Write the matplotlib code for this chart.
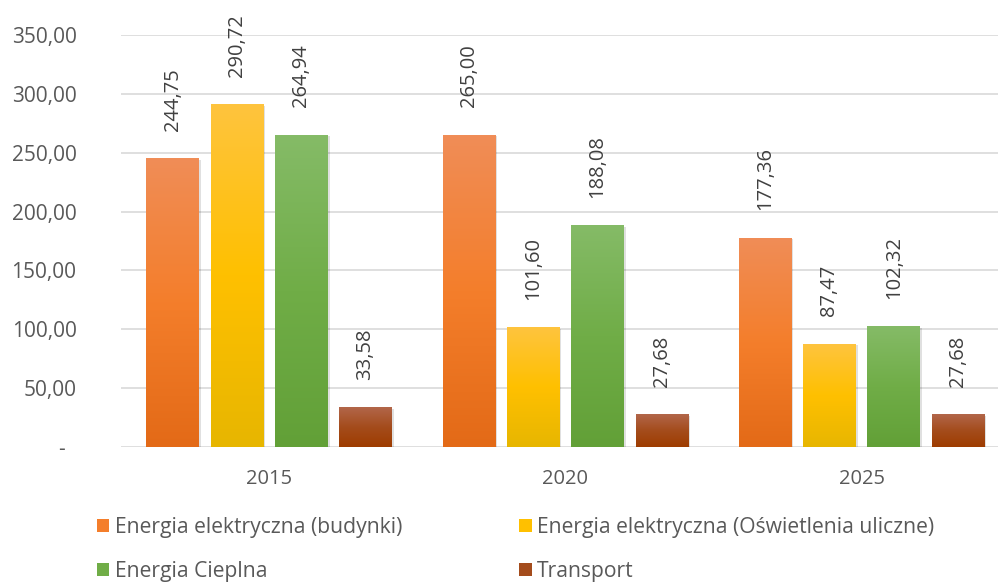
import numpy as np
import matplotlib.pyplot as plt
from matplotlib.colors import LinearSegmentedColormap
from matplotlib.patches import Patch
from matplotlib.ticker import FuncFormatter

years = ["2015", "2020", "2025"]
series_names = ["Energia elektryczna (budynki)",
                "Energia elektryczna (Oświetlenia uliczne)",
                "Energia Cieplna",
                "Transport"]
bud = [244.75, 265.00, 177.36]
oswietlenie = [290.72, 101.60, 87.47]
cieplna = [264.94, 188.08, 102.32]
transport = [33.58, 27.68, 27.68]
y_ticks = [0, 50, 100, 150, 200, 250, 300, 350]

# top, middle, bottom of the vertical gradient
gradients = [
    ["#F08D57", "#F47E2B", "#E36A17"],
    ["#FEC43E", "#FFC000", "#E7B600"],
    ["#85BB67", "#70AD47", "#62A037"],
    ["#B2664A", "#A44C1C", "#9E3C00"],
]

plt.rcParams['font.family'] = ['Open Sans', 'DejaVu Sans']

fig = plt.figure(figsize=(9.98, 5.86), dpi=100)
ax = fig.add_axes([0.1212, 0.2372, 0.8905, 0.703])

values = [bud, oswietlenie, cieplna, transport]
x = np.arange(len(years))
width = 0.177
step = 0.217
grad = np.linspace(0, 1, 256).reshape(-1, 1)

for i, vals in enumerate(values):
    top, mid, bot = gradients[i]
    cmap = LinearSegmentedColormap.from_list("g%d" % i, [bot, mid, top])
    pos = x + (i - 1.5) * step
    bars = ax.bar(pos, vals, width, color=mid, zorder=2)
    for b, v in zip(bars, vals):
        x0 = b.get_x()
        # soft shadow
        ax.bar(x0 + width / 2 + 0.007, v + 1.0, width, bottom=-2.0,
               color="#000000", alpha=0.12, zorder=1.5)
        ax.imshow(grad, extent=[x0, x0 + width, 0, v], origin="lower",
                  aspect="auto", cmap=cmap, zorder=2.5)
        ax.annotate(("%.2f" % v).replace(".", ","),
                    xy=(x0 + width / 2, v), xytext=(0, 20),
                    textcoords="offset points", rotation=90,
                    ha="center", va="bottom", fontsize=14.5, color="#404040")

ax.set_xlim(-0.5, 2.5)
ax.set_ylim(0, 350)
ax.set_xticks(x)
ax.set_xticklabels(years)
ax.set_yticks(y_ticks)


def fmt(v, p):
    if v == 0:
        return "-  "
    return ("%.2f" % v).replace(".", ",")


ax.yaxis.set_major_formatter(FuncFormatter(fmt))
ax.tick_params(axis="y", length=0, pad=32, labelsize=15, labelcolor="#595959")
ax.tick_params(axis="x", length=0, pad=16, labelsize=14.5, labelcolor="#595959")
ax.grid(axis="y", color="#D9D9D9", linewidth=1.2, zorder=0)
ax.set_axisbelow(True)
for s in ax.spines.values():
    s.set_visible(False)

handles = [Patch(facecolor=g[1], edgecolor="none") for g in gradients]
order = [0, 2, 1, 3]
fig.legend([handles[k] for k in order], [series_names[k] for k in order],
           loc="upper left", bbox_to_anchor=(0.097, 0.1177), ncol=2,
           frameon=False, fontsize=15.2, labelcolor="#595959",
           handlelength=0.6, handleheight=0.6, handletextpad=0.25,
           columnspacing=5.55, labelspacing=1.08, borderpad=0, borderaxespad=0)

fig.savefig("out.png", dpi=100)
